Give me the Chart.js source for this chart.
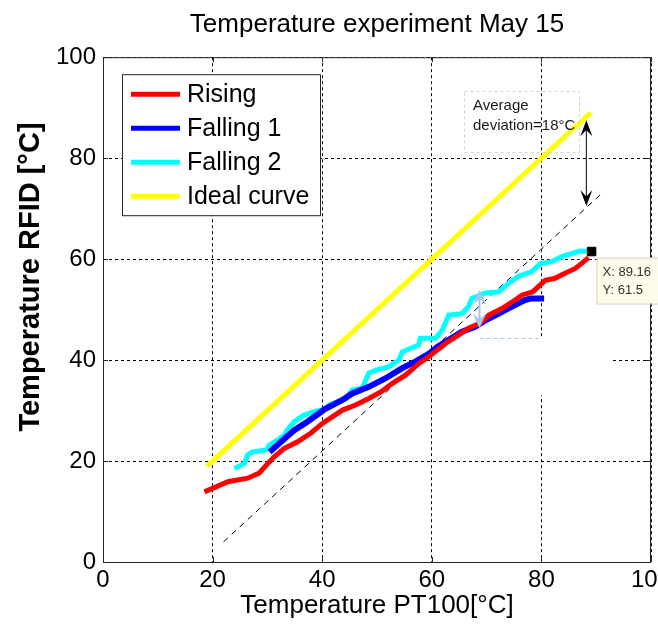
<!DOCTYPE html>
<html lang="en">
<head>
<meta charset="UTF-8">
<title>Temperature experiment May 15</title>
<style>
    body { margin: 0; background: #ffffff; }
    #chart { display: block; }
</style>
</head>
<body>
<canvas id="chart" width="658" height="626"></canvas>
<script src="https://cdn.jsdelivr.net/npm/chart.js"></script>
<script>
// values (°C)
const risingX = [18.5, 22.8, 26.4, 28.5, 29.8, 31.3, 33.1, 35.5, 37.9, 40.1, 43.7, 46.1, 48.5, 50.7, 52.8, 55.2, 57.6, 59.5, 62.5, 64.9, 66.7, 68.8, 70.4, 72.8, 75.2, 76.5, 78.4, 80.7, 82.5, 84.3, 86.1, 87.3, 88.6];
const risingY = [13.9, 15.9, 16.6, 17.6, 19.2, 20.9, 22.5, 23.8, 25.5, 27.5, 30.1, 31.1, 32.4, 33.7, 35.4, 37.0, 39.3, 40.7, 43.3, 45.0, 46.3, 47.3, 48.9, 50.2, 51.9, 52.9, 53.5, 55.8, 56.2, 57.2, 58.1, 59.1, 60.3];

const falling1X = [30.4, 32.5, 34.9, 37.3, 40.5, 43.7, 45.5, 48.5, 51.6, 54.6, 57.0, 59.5, 61.0, 63.1, 65.5, 67.9, 69.8, 72.2, 74.6, 77.0, 78.0, 80.5];
const falling1Y = [21.8, 23.8, 26.1, 27.8, 30.3, 32.1, 33.4, 34.7, 36.4, 38.4, 39.7, 41.3, 42.6, 44.0, 45.6, 46.6, 47.9, 49.2, 50.6, 51.9, 52.2, 52.2];

const falling2X = [24.0, 25.8, 26.4, 27.3, 29.8, 30.4, 31.9, 33.1, 33.6, 34.9, 36.7, 38.5, 40.4, 41.3, 44.3, 45.5, 47.3, 48.5, 49.8, 52.2, 54.0, 54.6, 57.6, 57.9, 60.7, 61.9, 63.1, 65.5, 66.7, 67.3, 69.8, 72.2, 74.0, 75.8, 78.2, 79.8, 81.9, 83.7, 85.5, 87.0, 89.16];
const falling2Y = [18.5, 19.5, 21.2, 21.8, 22.2, 23.2, 24.2, 25.1, 26.1, 27.8, 29.1, 29.8, 30.2, 31.1, 32.4, 34.1, 34.4, 37.4, 38.0, 38.7, 40.0, 41.6, 43.0, 44.3, 44.3, 45.9, 48.9, 49.2, 50.6, 52.2, 53.3, 53.5, 55.2, 56.6, 57.5, 59.1, 59.5, 60.5, 61.1, 61.6, 61.5];

const idealX = [19, 89];
const idealY = [19, 89];

// ideal curve shifted down by the average deviation
const shiftedX = [22, 91];
const shiftedY = [4, 73];

const xTicks = [0, 20, 40, 60, 80, 100];
const yTicks = [0, 20, 40, 60, 80, 100];

const tipX = [89.16];
const tipY = [61.5];

// annotation arrows (data units)
const devArrowX = 88.2;
const devArrowY = [87.5, 70.5];
const ghostArrowX = 68.7;
const ghostArrowY = [53.9, 46.3];
// leftover blank annotation box (data units: x from/to, y top/bottom)
const ghostBoxX = [68.7, 93.0];
const ghostBoxY = [44.4, 33.0];
const ghostEdgeX = [68.7, 79.5];

const FONT = "'Liberation Sans', Arial, sans-serif";

function toPoints(xs, ys) {
    return xs.map((x, i) => ({ x: x, y: ys[i] }));
}

function arrowHead(ctx, x, y, dir, len, half) {
    // dir = -1 points up, +1 points down
    ctx.beginPath();
    ctx.moveTo(x, y);
    ctx.lineTo(x - half, y - dir * len);
    ctx.lineTo(x, y - dir * len * 0.6);
    ctx.lineTo(x + half, y - dir * len);
    ctx.closePath();
    ctx.fill();
}

const overlay = {
    id: 'overlay',
    beforeDatasetsDraw(chart) {
        const { ctx, scales: { x, y } } = chart;
        ctx.save();
        // blank box left on the figure hides part of the grid
        const bx1 = x.getPixelForValue(ghostBoxX[0]);
        const bx2 = x.getPixelForValue(ghostBoxX[1]);
        const by1 = y.getPixelForValue(ghostBoxY[0]);
        const by2 = y.getPixelForValue(ghostBoxY[1]);
        ctx.fillStyle = '#ffffff';
        ctx.fillRect(bx1, by1, bx2 - bx1, by2 - by1);
        ctx.strokeStyle = '#a9c8f0';
        ctx.lineWidth = 1;
        ctx.setLineDash([4, 3]);
        ctx.beginPath();
        ctx.moveTo(x.getPixelForValue(ghostEdgeX[0]), Math.round(by1) + 0.5);
        ctx.lineTo(x.getPixelForValue(ghostEdgeX[1]), Math.round(by1) + 0.5);
        ctx.stroke();
        ctx.restore();
    },
    afterDatasetsDraw(chart) {
        const { ctx, chartArea: a, scales: { x, y } } = chart;
        ctx.save();

        // axes box + inner tick marks
        ctx.strokeStyle = '#262626';
        ctx.lineWidth = 1;
        ctx.strokeRect(a.left + 0.5, a.top + 0.5, a.right - a.left - 1, a.bottom - a.top);
        ctx.beginPath();
        xTicks.forEach(v => {
            const px = Math.round(x.getPixelForValue(v)) + 0.5;
            ctx.moveTo(px, a.bottom); ctx.lineTo(px, a.bottom - 5);
            ctx.moveTo(px, a.top); ctx.lineTo(px, a.top + 5);
        });
        yTicks.forEach(v => {
            const py = Math.round(y.getPixelForValue(v)) + 0.5;
            ctx.moveTo(a.left, py); ctx.lineTo(a.left + 5, py);
            ctx.moveTo(a.right, py); ctx.lineTo(a.right - 5, py);
        });
        ctx.stroke();

        // faded arrow
        const gx = x.getPixelForValue(ghostArrowX);
        const gy1 = y.getPixelForValue(ghostArrowY[0]);
        const gy2 = y.getPixelForValue(ghostArrowY[1]);
        ctx.strokeStyle = '#a6c4ec';
        ctx.fillStyle = '#a6c4ec';
        ctx.lineWidth = 2;
        ctx.beginPath();
        ctx.moveTo(gx, gy1 + 8);
        ctx.lineTo(gx, gy2 - 8);
        ctx.stroke();
        arrowHead(ctx, gx, gy1, -1, 15, 7);
        arrowHead(ctx, gx, gy2, 1, 15, 7);

        // deviation arrow
        const ax = x.getPixelForValue(devArrowX);
        const ay1 = y.getPixelForValue(devArrowY[0]);
        const ay2 = y.getPixelForValue(devArrowY[1]);
        ctx.strokeStyle = '#000000';
        ctx.fillStyle = '#000000';
        ctx.lineWidth = 1;
        ctx.beginPath();
        ctx.moveTo(ax, ay1 + 6);
        ctx.lineTo(ax, ay2 - 6);
        ctx.stroke();
        arrowHead(ctx, ax, ay1, -1, 16, 6);
        arrowHead(ctx, ax, ay2, 1, 16, 6);

        // text box
        ctx.strokeStyle = '#c6dcc6';
        ctx.setLineDash([3, 3]);
        ctx.strokeRect(464.5, 91.5, 115, 61);
        ctx.setLineDash([]);
        ctx.fillStyle = '#1a1a1a';
        ctx.font = '15px ' + FONT;
        ctx.textBaseline = 'middle';
        ctx.textAlign = 'left';
        ctx.fillText('Average', 473, 106);
        ctx.fillText('deviation=18°C', 473, 126);

        // data tip
        const tx = x.getPixelForValue(tipX[0]);
        const ty = y.getPixelForValue(tipY[0]);
        ctx.fillStyle = '#fffbea';
        ctx.fillRect(tx + 5, ty + 6, 70, 46);
        ctx.strokeStyle = '#d9d2bf';
        ctx.strokeRect(tx + 5.5, ty + 6.5, 70, 46);
        ctx.fillStyle = '#333333';
        ctx.font = '13px ' + FONT;
        ctx.fillText('X: 89.16', tx + 11, ty + 21);
        ctx.fillText('Y: 61.5', tx + 11, ty + 39);

        // legend
        const lx = a.left + 19, lt = a.top + 17;
        ctx.fillStyle = '#ffffff';
        ctx.fillRect(lx, lt, 198, 141);
        ctx.strokeStyle = '#262626';
        ctx.strokeRect(lx + 0.5, lt + 0.5, 198, 141);
        ctx.font = '25px ' + FONT;
        chart.data.datasets.filter(d => d.inLegend).forEach((d, i) => {
            const ry = lt + 20 + i * 34;
            ctx.strokeStyle = d.borderColor;
            ctx.lineWidth = 5;
            ctx.beginPath();
            ctx.moveTo(lx + 9, ry);
            ctx.lineTo(lx + 58, ry);
            ctx.stroke();
            ctx.fillStyle = '#000000';
            ctx.fillText(d.label, lx + 65, ry + 1);
        });

        // y axis label
        ctx.save();
        ctx.translate(31, 277);
        ctx.rotate(-Math.PI / 2);
        ctx.textAlign = 'center';
        ctx.font = 'bold 29px ' + FONT;
        ctx.fillStyle = '#000000';
        ctx.fillText('Temperature RFID [°C]', 0, 0);
        ctx.restore();

        ctx.restore();
    }
};

function lineSet(label, xs, ys, color, width) {
    return {
        label: label,
        data: toPoints(xs, ys),
        showLine: true,
        borderColor: color,
        backgroundColor: color,
        borderWidth: width,
        pointRadius: 0,
        inLegend: true
    };
}

new Chart(document.getElementById('chart'), {
    type: 'scatter',
    data: {
        datasets: [
            {
                label: 'tip',
                data: toPoints(tipX, tipY),
                pointStyle: 'rect',
                pointRadius: 6,
                backgroundColor: '#000000',
                borderColor: '#000000',
                showLine: false
            },
            lineSet('Rising', risingX, risingY, '#ff0000', 5),
            lineSet('Falling 1', falling1X, falling1Y, '#0000ff', 6),
            lineSet('Falling 2', falling2X, falling2Y, '#00ffff', 5),
            lineSet('Ideal curve', idealX, idealY, '#ffff00', 5),
            {
                label: 'shifted',
                data: toPoints(shiftedX, shiftedY),
                showLine: true,
                borderColor: '#000000',
                borderWidth: 1,
                borderDash: [6, 5],
                pointRadius: 0
            }
        ]
    },
    options: {
        responsive: false,
        animation: false,
        devicePixelRatio: 1,
        layout: { padding: 0 },
        plugins: {
            legend: { display: false },
            tooltip: { enabled: false },
            title: {
                display: true,
                text: 'Temperature experiment May 15',
                fullSize: false,
                color: '#000000',
                font: { family: FONT, size: 26, weight: 'normal' },
                padding: { top: 9, bottom: 17 }
            }
        },
        scales: {
            x: {
                type: 'linear',
                min: 0,
                max: 100,
                afterBuildTicks: s => { s.ticks = xTicks.map(v => ({ value: v })); },
                afterFit: s => { s.height = 64; s.paddingLeft = 0; s.paddingRight = 0; },
                ticks: {
                    color: '#000000',
                    font: { family: FONT, size: 24 },
                    padding: 4,
                    maxRotation: 0
                },
                grid: { color: '#000000', lineWidth: 1, drawTicks: false },
                border: { display: false, dash: [3, 3] },
                title: {
                    display: true,
                    text: 'Temperature PT100[°C]',
                    color: '#000000',
                    font: { family: FONT, size: 26 },
                    padding: { top: 0, bottom: 5 }
                }
            },
            y: {
                type: 'linear',
                min: 0,
                max: 100,
                afterBuildTicks: s => { s.ticks = yTicks.map(v => ({ value: v })); },
                afterFit: s => { s.width = 103; s.paddingTop = 0; s.paddingBottom = 0; },
                ticks: {
                    color: '#000000',
                    font: { family: FONT, size: 24 },
                    padding: 7
                },
                grid: { color: '#000000', lineWidth: 1, drawTicks: false },
                border: { display: false, dash: [3, 3] }
            }
        }
    },
    plugins: [overlay]
});
</script>
</body>
</html>
